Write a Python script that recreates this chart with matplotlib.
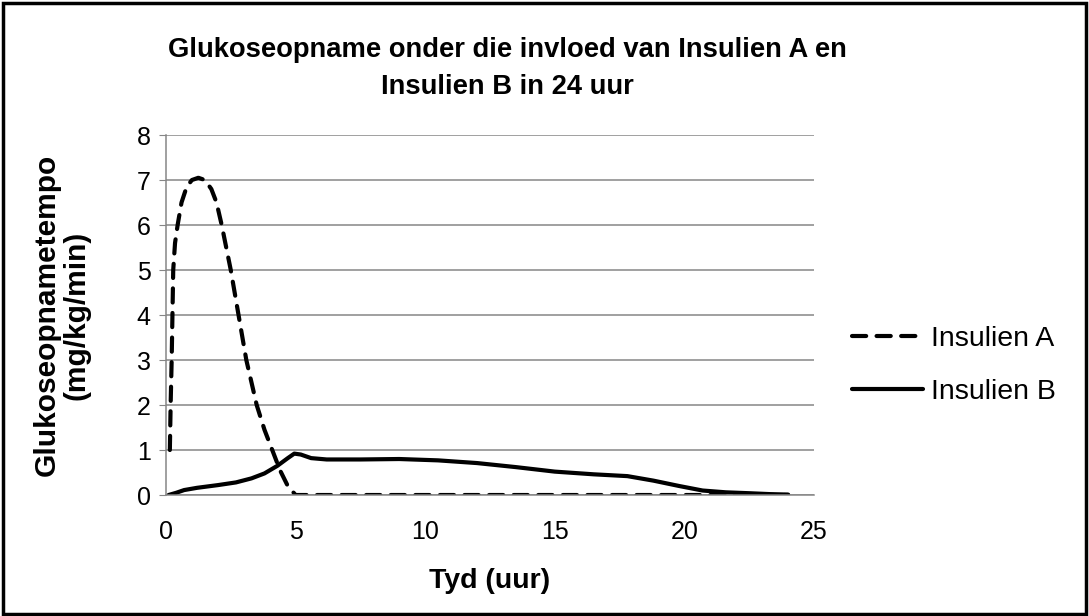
import matplotlib
matplotlib.use("Agg")
import matplotlib.pyplot as plt
from matplotlib.patches import Rectangle

plt.rcParams["font.family"] = ["Liberation Sans", "DejaVu Sans"]

# values
time_a = [0.15, 0.18, 0.22, 0.28, 0.35, 0.45, 0.6, 0.8, 1.0, 1.25, 1.5, 1.75, 1.95,
          2.15, 2.5, 2.8, 3.1, 3.5, 3.8, 4.1, 4.4, 4.7, 5.0, 6, 8, 10, 12, 14, 16,
          18, 20, 22, 24]
insulien_a = [1.0, 2.0, 3.0, 5.0, 5.6, 6.0, 6.5, 6.85, 7.0, 7.05, 7.0, 6.8, 6.5,
              6.0, 5.0, 4.0, 3.0, 2.0, 1.45, 1.0, 0.55, 0.2, 0.0, 0, 0, 0, 0, 0, 0,
              0, 0, 0, 0]

time_b = [0.1, 0.4, 0.7, 1.2, 2.0, 2.7, 3.3, 3.8, 4.3, 4.7, 4.95, 5.2, 5.6, 6.2, 7.5,
          9.0, 10.5, 12.0, 13.5, 15.0, 16.5, 17.8, 18.8, 19.8, 20.7, 21.6, 22.5, 23.3, 24.0]
insulien_b = [0.0, 0.05, 0.11, 0.16, 0.22, 0.28, 0.37, 0.48, 0.65, 0.82, 0.92, 0.9, 0.82,
              0.79, 0.79, 0.8, 0.77, 0.71, 0.62, 0.52, 0.46, 0.42, 0.32, 0.2, 0.1, 0.06,
              0.04, 0.02, 0.01]

x_ticks = [0, 5, 10, 15, 20, 25]
y_ticks = [0, 1, 2, 3, 4, 5, 6, 7, 8]

fig = plt.figure(figsize=(10.89, 6.16), dpi=100)
ax = fig.add_axes([0.1524, 0.1964, 0.5951, 0.5844])

ax.plot(time_a, insulien_a, color="black", lw=3.0, linestyle=(0, (3.4, 2.5)),
        dash_capstyle="round", solid_capstyle="round", label="Insulien A")
ax.plot(time_b, insulien_b, color="black", lw=3.0, solid_capstyle="round",
        label="Insulien B")

ax.set_xlim(0, 25)
ax.set_ylim(0, 8)
ax.set_xticks(x_ticks)
ax.set_yticks(y_ticks)
ax.tick_params(axis="x", length=0, labelsize=18, pad=18)
ax.tick_params(axis="y", length=5, color="#868686", labelsize=18, pad=6)
ax.yaxis.grid(True, color="#868686", lw=1.1)
ax.set_axisbelow(True)
for side in ["top", "right"]:
    ax.spines[side].set_visible(False)
for side in ["left", "bottom"]:
    ax.spines[side].set_color("#868686")
    ax.spines[side].set_linewidth(1.1)

ax.set_xlabel("Tyd (uur)", fontsize=20.5, fontweight="bold", labelpad=17)
ax.set_ylabel("Glukoseopnametempo\n(mg/kg/min)", fontsize=21.5, fontweight="bold",
              labelpad=33, linespacing=1.1)

fig.text(0.466, 0.889, "Glukoseopname onder die invloed van Insulien A en\nInsulien B in 24 uur",
         ha="center", va="center", fontsize=19.7, fontweight="bold", linespacing=1.55)

ax.legend(loc="center left", bbox_to_anchor=(1.019, 0.36), frameon=False, fontsize=20.5,
          handlelength=2.5, handletextpad=0.28, labelspacing=0.95)

fig.add_artist(Rectangle((0.003, 0.004), 0.994, 0.991, transform=fig.transFigure,
                         fill=False, edgecolor="black", lw=2.5))

fig.savefig("out.png", dpi=100)
